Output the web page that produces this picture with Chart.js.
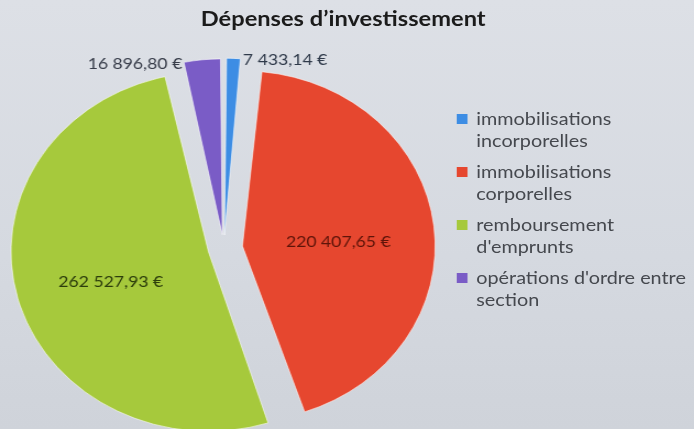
<!DOCTYPE html>
<html>
<head>
<meta charset="utf-8">
<script src="https://cdn.jsdelivr.net/npm/chart.js@4/dist/chart.umd.min.js"></script>
<style>
  html, body { margin: 0; padding: 0; }
  body {
    width: 694px; height: 429px; overflow: hidden; position: relative;
    background: linear-gradient(180deg, #dde0e6 0%, #d5d9e0 60%, #cfd3da 100%);
    font-family: Lato, "Open Sans", sans-serif;
  }
  /* the photographed slide is a bit wider than tall, so the whole stage is stretched */
  #stage { position: absolute; left: 0; top: 0; width: 631px; height: 429px; transform: scaleX(1.1); transform-origin: 0 0; }
  #title {
    position: absolute; left: 212px; top: 5px; width: 200px;
    text-align: center; font-weight: bold; font-size: 21.5px; color: #1b1b1b; white-space: nowrap;
  }
  #chart { position: absolute; left: 0; top: 0; }
  #legend { position: absolute; left: 415px; top: 107px; color: #45484e; font-size: 18px; line-height: 22px; }
  .item { display: flex; align-items: flex-start; margin-bottom: 9px; }
  .box { width: 10px; height: 10px; margin-top: 7px; margin-right: 8px; flex: none; }
</style>
</head>
<body>
<div id="stage">
  <div id="title"><span style="display:inline-block;margin-left:-100px;margin-right:-100px">Dépenses d’investissement</span></div>
  <canvas id="chart" width="631" height="429"></canvas>
  <div id="legend"></div>
</div>
<script>
// chart data
const categories = [
  ["immobilisations", "incorporelles"],
  ["immobilisations", "corporelles"],
  ["remboursement", "d'emprunts"],
  ["opérations d'ordre entre", "section"]
];
const values = [7433.14, 220407.65, 262527.93, 16896.80];
const valueLabels = ["7 433,14 €", "220 407,65 €", "262 527,93 €", "16 896,80 €"];

const colors = ["#3d8de4", "#e6472f", "#a6c93c", "#7a5cc6"];
const labelColors = ["#2f3a4a", "#5e1409", "#2c3d0c", "#383d4a"];
const offsets = [52, 68, 58, 54];

// same translation Chart.js applies to an offset arc
function arcShift(arc) {
  const off = (arc.options.offset || 0) / 4;
  const fix = 1 - Math.sin(Math.min(Math.PI, arc.circumference || 0));
  return off + off * fix;
}

const valueLabelPlugin = {
  id: "valueLabels",
  afterDatasetsDraw(chart) {
    const ctx = chart.ctx;
    const meta = chart.getDatasetMeta(0);
    ctx.save();
    ctx.font = "16px Lato";
    ctx.textBaseline = "middle";
    meta.data.forEach((arc, i) => {
      const mid = (arc.startAngle + arc.endAngle) / 2;
      const s = arcShift(arc);
      const ax = arc.x + Math.cos(mid) * s;
      const ay = arc.y + Math.sin(mid) * s;
      const r = arc.outerRadius;
      ctx.fillStyle = labelColors[i];
      if (arc.circumference > 1) {
        ctx.textAlign = "center";
        ctx.fillText(valueLabels[i], ax + Math.cos(mid) * r * 0.47, ay + Math.sin(mid) * r * 0.47 + 6);
      } else {
        // thin slices: label beside the outer corner
        const right = Math.cos(mid) >= 0;
        const ang = right ? arc.endAngle : arc.startAngle;
        const cx = ax + Math.cos(ang) * r;
        const cy = ay + Math.sin(ang) * r;
        ctx.textAlign = right ? "left" : "right";
        ctx.fillText(valueLabels[i], cx + (right ? 1 : -1), cy + 1);
      }
    });
    ctx.restore();
  }
};

new Chart(document.getElementById("chart"), {
  type: "pie",
  data: {
    labels: categories.map(c => c.join(" ")),
    datasets: [{
      data: values,
      backgroundColor: colors,
      borderColor: "rgba(255,255,255,0.55)",
      borderWidth: 1,
      offset: offsets,
      hoverOffset: 0
    }]
  },
  options: {
    responsive: false,
    animation: false,
    radius: 165,
    layout: { padding: { left: 0, right: 224, top: 67, bottom: 0 } },
    plugins: {
      legend: { display: false },
      tooltip: { enabled: false }
    }
  },
  plugins: [valueLabelPlugin]
});

// html legend
const legend = document.getElementById("legend");
categories.forEach((lines, i) => {
  const item = document.createElement("div");
  item.className = "item";
  item.innerHTML = '<span class="box" style="background:' + colors[i] + '"></span><span>' + lines.join("<br>") + "</span>";
  legend.appendChild(item);
});
</script>
</body>
</html>
